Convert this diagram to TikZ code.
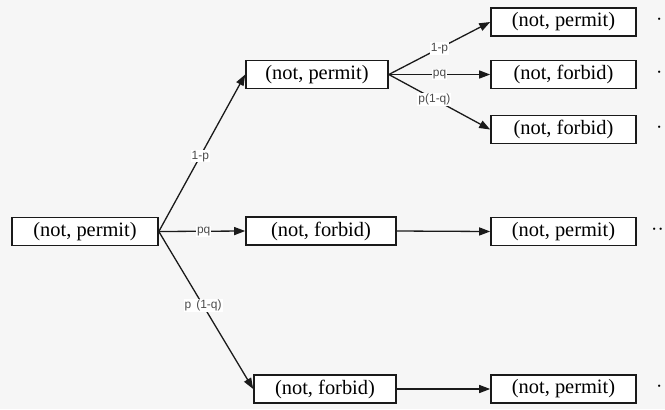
\documentclass[tikz,border=0pt]{standalone}
\usepackage{fontspec}
\setmainfont{Liberation Serif}
\newfontfamily\lblfont{Liberation Sans}
\usepackage{xcolor}
\usetikzlibrary{arrows.meta}
\definecolor{bgc}{HTML}{F6F6F6}
\definecolor{linec}{HTML}{1A1A1A}
\tikzset{
  ar/.style={-{Triangle[length=11bp,width=8bp]},line width=1.3bp,linec},
  box/.style={draw=linec,line width=1.6bp,fill=white,minimum height=28bp,inner sep=0pt,font=\fontsize{20.5}{22}\selectfont},
  lbl/.style={fill=white,inner sep=1pt,font=\lblfont\fontsize{12}{13}\selectfont,text=black!70},
  dts/.style={anchor=west,inner sep=0pt,font=\fontsize{19}{21}\selectfont}
}
\begin{document}
\begin{tikzpicture}[x=1bp,y=-1bp]
\fill[bgc] (0,0) rectangle (665,409);
\useasboundingbox (0,0) rectangle (665,409);
% first level
\node[box,minimum width=146bp] (root) at (85,231.5) {(not, permit)};
% second level
\node[box,minimum width=142bp] (mt) at (317,74.5) {(not, permit)};
\node[box,minimum width=150bp] (mm) at (321,231) {(not, forbid)};
\node[box,minimum width=142bp] (mb) at (325,389) {(not, forbid)};
% third level
\node[box,minimum width=145bp] (ra) at (563.5,22) {(not, permit)};
\node[box,minimum width=145bp] (rb) at (563.5,74.5) {(not, forbid)};
\node[box,minimum width=145bp] (rc) at (563.5,129.5) {(not, forbid)};
\node[box,minimum width=145bp] (rd) at (563.5,231.5) {(not, permit)};
\node[box,minimum width=145bp] (re) at (563.5,389) {(not, permit)};
% continuation dots
\node[dts] (da) at (656,22) {·};
\node[dts] (db) at (656,74.5) {·};
\node[dts] (dc) at (656,129.5) {·};
\node[dts] (dd) at (651,231.5) {··};
\node[dts] (de) at (656,389) {·};
% edges
\draw[ar] (root.east) -- (mt.west) node[lbl,pos=0.48] {1-p};
\draw[ar] (root.east) -- (mm.west) node[lbl,pos=0.52] {pq};
\draw[ar] (root.east) -- (mb.west) node[lbl,pos=0.47] {p\hspace{5pt}(1-q)};
\draw[ar] (mt.east) -- (ra.west) node[lbl,pos=0.5] {1-p};
\draw[ar] (mt.east) -- (rb.west) node[lbl,pos=0.5] {pq};
\draw[ar] (mt.east) -- (rc.west) node[lbl,pos=0.45] {p(1-q)};
\draw[ar] (mm.east) -- (rd.west);
\draw[ar] (mb.east) -- (re.west);
\end{tikzpicture}
\end{document}
